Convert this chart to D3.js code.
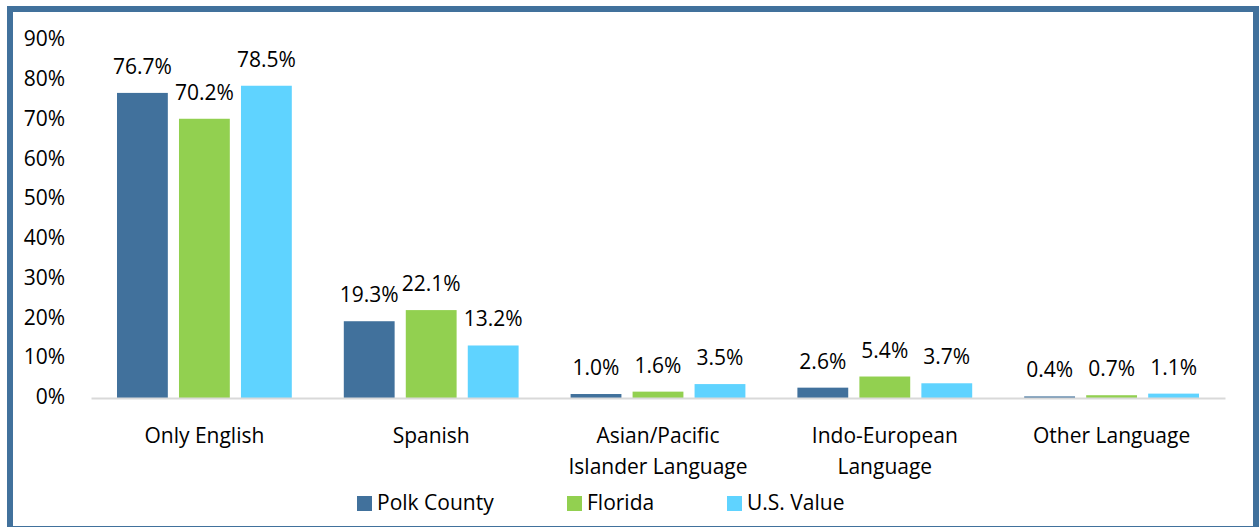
<!DOCTYPE html>
<html><head><meta charset="utf-8">
<script src="https://cdn.jsdelivr.net/npm/d3@7"></script>
<style>body{margin:0;background:#fff}svg{display:block}text{font-family:"Open Sans","Noto Sans",sans-serif;fill:#000}</style>
</head><body><svg id="c" width="1259" height="527"></svg>
<script>
const categories = [["Only English"],["Spanish"],["Asian/Pacific","Islander Language"],["Indo-European","Language"],["Other Language"]];
const seriesNames = ["Polk County","Florida","U.S. Value"];
const polk = [76.7, 19.3, 1.0, 2.6, 0.4];
const florida = [70.2, 22.1, 1.6, 5.4, 0.7];
const us = [78.5, 13.2, 3.5, 3.7, 1.1];
const colors = ["#41719C","#92D050","#5FD3FF"];
const yTicks = [0,10,20,30,40,50,60,70,80,90];
const FS = "21px";

const svg = d3.select("#c");
svg.append("rect").attr("x",10).attr("y",9).attr("width",1246).attr("height",520)
  .attr("fill","none").attr("stroke","#41719C").attr("stroke-width",6);

const x0 = d3.scaleBand().domain(d3.range(categories.length)).range([91,1225]).paddingInner(0).paddingOuter(0);
const x1 = d3.scaleBand().domain(d3.range(3)).range([26, x0.bandwidth()-26]).paddingInner(0.18);
const y = d3.scaleLinear().domain([0,90]).range([398,40]);

// y axis labels
const yAxis = d3.axisLeft(y).tickValues(yTicks).tickFormat(d=>d+"%").tickSize(0).tickPadding(0);
const ga = svg.append("g").attr("transform","translate(65,-1)").call(yAxis);
ga.select(".domain").remove();
ga.selectAll("text").style("font-size",FS).attr("font-family",null);

const series = [polk, florida, us];
const g = svg.append("g");
categories.forEach((c,i)=>{
  series.forEach((s,j)=>{
    const v = s[i];
    g.append("rect").attr("x",x0(i)+x1(j)).attr("y",y(v)).attr("width",x1.bandwidth())
      .attr("height",y(0)-y(v)).attr("fill",colors[j]);
    g.append("text").attr("x",x0(i)+x1(j)+x1.bandwidth()/2).attr("y",y(v)-19)
      .attr("text-anchor","middle").style("font-size",FS).text(v.toFixed(1)+"%");
  });
});

// x axis
const xAxis = d3.axisBottom(x0).tickSize(0).tickFormat("");
const gx = svg.append("g").attr("transform","translate(0,398)").call(xAxis);
gx.select(".domain").attr("stroke","#D9D9D9").attr("stroke-width",2);
categories.forEach((c,i)=>{
  c.forEach((line,k)=>{
    svg.append("text").attr("x",x0(i)+x0.bandwidth()/2).attr("y",443+k*31)
      .attr("text-anchor","middle").style("font-size",FS).text(line);
  });
});

// legend
const legX = [357,567,727];
seriesNames.forEach((n,j)=>{
  svg.append("rect").attr("x",legX[j]).attr("y",496).attr("width",15).attr("height",15).attr("fill",colors[j]);
  svg.append("text").attr("x",legX[j]+20).attr("y",510).style("font-size",FS).text(n);
});
</script></body></html>
